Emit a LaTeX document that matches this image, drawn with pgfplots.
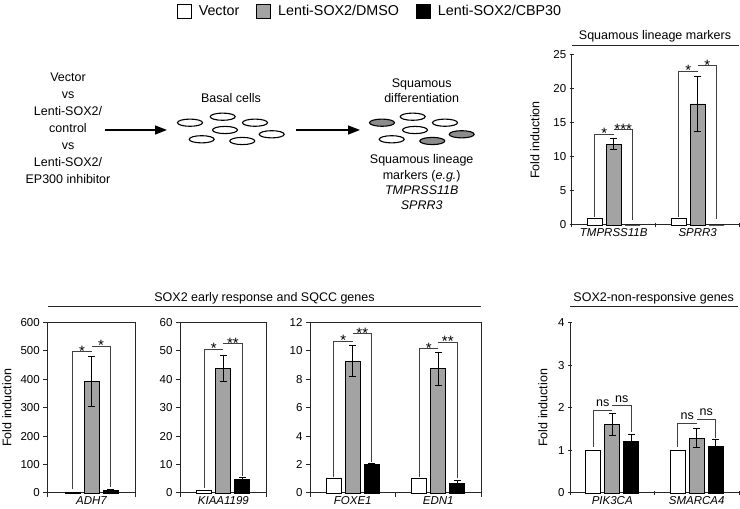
\documentclass[border=0pt]{standalone}
\usepackage{pgfplots}
\pgfplotsset{compat=1.18}
\usepackage{fontspec}
\setmainfont{Liberation Sans}
\usetikzlibrary{arrows.meta}
\definecolor{barg}{HTML}{A3A3A3}
\definecolor{ellg}{HTML}{8C8C8C}
\definecolor{axc}{HTML}{262626}
\newcommand{\dtext}{\fontsize{12.5}{15}\selectfont}
\newcommand{\ttl}{\fontsize{12.5}{15}\selectfont}
\pgfplotsset{
  base/.style={
    scale only axis, ybar, bar width=15pt, clip=false,
    ymin=0, enlargelimits=false,
    tick align=outside, tick pos=left, major tick length=4pt,
    axis line style={line width=1pt, draw=axc},
    tick style={line width=1pt, draw=axc},
    tick label style={font=\fontsize{11.5}{13}\selectfont},
    /pgf/number format/assume math mode=true,
    ylabel style={font=\fontsize{12.5}{14}\selectfont},
    extra x tick style={major tick length=0pt, tick style={draw=none}},
    xticklabels={,,},
  },
  openax/.style={axis x line=bottom, axis y line=left, axis line style={-}},
  wbar/.style={draw=black, fill=white, line width=0.9pt, bar shift=-19pt},
  gbar/.style={draw=black, fill=barg, line width=0.9pt, bar shift=0pt},
  bbar/.style={draw=black, fill=black, line width=0.9pt, bar shift=19pt},
}
\tikzset{
  brk/.style={line width=0.9pt, draw=black!75},
  siglab/.style={anchor=base, inner sep=0pt, font=\fontsize{15}{15}\selectfont},
}
% error bar: #1 x, #2 low, #3 high, #4 shift
\newcommand{\eb}[4]{\addplot[forget plot, sharp plot, draw=black, line width=0.9pt, mark=-, mark size=3.3pt, mark options={solid, line width=0.9pt, black}, xshift=#4] coordinates {(#1,#2) (#1,#3)};}
% #1 cat, #2 left leg bottom, #3 h1, #4 h2, #5 right leg bottom, #6 lab1, #7 lab2, #8 yshift
\newcommand{\sig}[8]{%
  \draw[brk] ([xshift=-19pt]axis cs:#1,#2) -- ([xshift=-19pt]axis cs:#1,#3) -- (axis cs:#1,#3);
  \draw[brk] (axis cs:#1,#4) -- ([xshift=19pt]axis cs:#1,#4) -- ([xshift=19pt]axis cs:#1,#5);
  \node[siglab, yshift=#8] at ([xshift=-9.5pt]axis cs:#1,#3) {#6};
  \node[siglab, yshift=#8] at ([xshift=9.5pt]axis cs:#1,#4) {#7};
}
\newcommand{\ns}{{\fontsize{12.5}{13}\selectfont ns}}
\begin{document}
\begin{tikzpicture}[x=1pt,y=1pt]
\path[use as bounding box] (0,0) rectangle (740,509);

% ---------- diagram ----------
\foreach \t/\yy in {Vector/427.8, vs/410.7, {Lenti-SOX2/}/393.6, control/376.5, vs/359.4, {Lenti-SOX2/}/342.3, EP300 inhibitor/325.2}
  \node[anchor=base, font=\dtext, inner sep=0pt] at (68,\yy) {\t};
\draw[line width=1.6pt, -{Triangle[length=12pt,width=9pt]}] (105,379) -- (167,379);
\draw[line width=1.6pt, -{Triangle[length=12pt,width=9pt]}] (296,379) -- (360,379);
\node[anchor=base, font=\dtext, inner sep=0pt] at (231,406.5) {Basal cells};
\foreach \x/\y in {190/386.3, 222.7/392.3, 255/386.3, 225/379, 271.7/374.7, 201.7/369.7, 242.3/368}
  \draw[line width=1.1pt, fill=white] (\x,\y) ellipse [x radius=12.5pt, y radius=3.6pt];
\foreach \x/\y/\c in {382/386.3/ellg, 412.7/392.3/white, 445/386.3/white, 415/379/white, 461.7/374.7/ellg, 391.7/369.7/white, 432.3/368/ellg}
  \draw[line width=1.1pt, fill=\c] (\x,\y) ellipse [x radius=12.5pt, y radius=3.6pt];
\node[anchor=base, font=\dtext, inner sep=0pt] at (421.7,421.2) {Squamous};
\node[anchor=base, font=\dtext, inner sep=0pt] at (421.7,406.5) {differentiation};
\node[anchor=base, font=\dtext, inner sep=0pt] at (421.7,345.2) {Squamous lineage};
\node[anchor=base, font=\dtext, inner sep=0pt] at (421.7,329.7) {markers (\textit{e.g.})};
\node[anchor=base, font=\dtext, inner sep=0pt] at (421.7,314.3) {\textit{TMPRSS11B}};
\node[anchor=base, font=\dtext, inner sep=0pt] at (421.7,299) {\textit{SPRR3}};

% ---------- titles ----------
\node[anchor=base, font=\ttl, inner sep=0pt] at (655,469.5) {Squamous lineage markers};
\draw[line width=1.4pt, axc] (571.5,463.5) -- (738.5,463.5);
\node[anchor=base, font=\ttl, inner sep=0pt] at (264.5,207.8) {SOX2 early response and SQCC genes};
\draw[line width=1.4pt, axc] (48,202.3) -- (481,202.3);
\node[anchor=base, font=\ttl, inner sep=0pt] at (653.7,207.8) {SOX2-non-responsive genes};
\draw[line width=1.4pt, axc] (570,202.3) -- (737.5,202.3);

% ---------- top right ----------
\begin{axis}[base, openax, at={(571.7pt,284pt)}, anchor=south west,
  width=168pt, height=170pt, xmin=-0.5, xmax=1.5, ymax=25,
  ytick={0,5,...,25}, xtick={-0.5,0.5,1.5},
  extra x ticks={0,1}, extra x tick labels={\textit{TMPRSS11B},\textit{SPRR3}},
  ylabel={Fold induction}, ylabel style={at={(axis description cs:-0.2185,0.5)}, anchor=center},
  legend style={draw=none, fill=none, at={(axis description cs:-1.2006,1.2588)}, anchor=center,
    legend columns=3, font=\fontsize{14.3}{16}\selectfont,
    /tikz/every odd column/.append style={column sep=5pt},
    /tikz/every even column/.append style={column sep=15pt}},
  legend image code/.code={\draw[#1, line width=0.9pt] (0pt,-7pt) rectangle (14pt,7pt);},
]
\addplot[wbar] coordinates {(0,1) (1,1)};
\addplot[gbar] coordinates {(0,11.9) (1,17.8)};
\addplot[bbar] coordinates {(0,0) (1,0)};
\legend{Vector, Lenti-SOX2/DMSO, Lenti-SOX2/CBP30}
\eb{0}{11.05}{12.75}{0pt}
\eb{1}{13.8}{21.8}{0pt}
\sig{0}{1.2}{13.3}{14.0}{0.73}{*}{***}{-4.4pt}
\sig{1}{1.2}{22.6}{23.4}{0.9}{*}{*}{-4.4pt}
\end{axis}

% ---------- ADH7 ----------
\begin{axis}[base, at={(47.3pt,16pt)}, anchor=south west, width=88.7pt, height=170.5pt,
  xmin=-0.5, xmax=0.5, ymax=600, ytick={0,100,...,600}, xtick={-0.5,0.5},
  extra x ticks={0}, extra x tick labels={\textit{ADH7}},
  ylabel={Fold induction}, ylabel style={at={(axis description cs:-0.454,0.5)}, anchor=center}]
\addplot[wbar] coordinates {(0,1)};
\addplot[gbar] coordinates {(0,392)};
\addplot[bbar] coordinates {(0,9)};
\eb{0}{304}{480}{0pt}
\eb{0}{5}{13}{19pt}
\sig{0}{15}{497}{516}{21}{*}{*}{-4.4pt}
\end{axis}

% ---------- KIAA1199 ----------
\begin{axis}[base, at={(180pt,16pt)}, anchor=south west, width=86.7pt, height=170.5pt,
  xmin=-0.5, xmax=0.5, ymax=60, ytick={0,10,...,60}, xtick={-0.5,0.5},
  extra x ticks={0}, extra x tick labels={\textit{KIAA1199}}]
\addplot[wbar] coordinates {(0,1)};
\addplot[gbar] coordinates {(0,43.8)};
\addplot[bbar] coordinates {(0,4.8)};
\eb{0}{39.1}{48.5}{0pt}
\eb{0}{4.0}{5.6}{19pt}
\sig{0}{1.6}{50.5}{52.5}{6.0}{*}{**}{-4.4pt}
\end{axis}

% ---------- FOXE1 / EDN1 ----------
\begin{axis}[base, at={(310pt,16pt)}, anchor=south west, width=171pt, height=170.5pt,
  xmin=-0.5, xmax=1.5, ymax=12, ytick={0,2,...,12}, xtick={-0.5,0.5,1.5},
  extra x ticks={0,1}, extra x tick labels={\textit{FOXE1},\textit{EDN1}}]
\addplot[wbar] coordinates {(0,1) (1,1)};
\addplot[gbar] coordinates {(0,9.28) (1,8.74)};
\addplot[bbar] coordinates {(0,2.0) (1,0.66)};
\eb{0}{8.18}{10.38}{0pt}
\eb{1}{7.57}{9.91}{0pt}
\eb{0}{1.94}{2.06}{19pt}
\eb{1}{0.42}{0.90}{19pt}
\sig{0}{1.1}{10.7}{11.2}{2.15}{*}{**}{-4.4pt}
\sig{1}{1.1}{10.16}{10.6}{1.05}{*}{**}{-4.4pt}
\end{axis}

% ---------- bottom right ----------
\begin{axis}[base, openax, at={(570pt,16pt)}, anchor=south west, width=169pt, height=170.5pt,
  xmin=-0.5, xmax=1.5, ymax=4, ytick={0,1,2,3,4}, xtick={-0.5,0.5,1.5},
  extra x ticks={0,1}, extra x tick labels={\textit{PIK3CA},\textit{SMARCA4}},
  ylabel={Fold induction}, ylabel style={at={(axis description cs:-0.16,0.5)}, anchor=center}]
\addplot[wbar] coordinates {(0,1) (1,1)};
\addplot[gbar] coordinates {(0,1.6) (1,1.29)};
\addplot[bbar] coordinates {(0,1.2) (1,1.09)};
\eb{0}{1.34}{1.86}{0pt}
\eb{1}{1.07}{1.51}{0pt}
\eb{0}{1.02}{1.38}{19pt}
\eb{1}{0.93}{1.25}{19pt}
\sig{0}{1.08}{1.94}{2.05}{1.42}{\ns}{\ns}{3.6pt}
\sig{1}{1.08}{1.64}{1.73}{1.3}{\ns}{\ns}{3.6pt}
\end{axis}
\end{tikzpicture}
\end{document}
